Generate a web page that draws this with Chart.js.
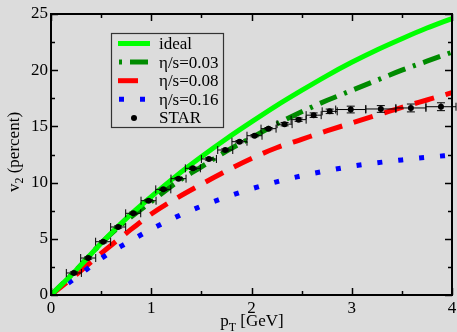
<!DOCTYPE html>
<html lang="en">
<head>
  <meta charset="UTF-8">
  <title>v2 vs pT</title>
  <script src="https://cdn.jsdelivr.net/npm/chart.js"></script>
  <style>
    html, body {
      margin: 0;
      padding: 0;
      background-color: #dcdcdc;
    }
    canvas {
      display: block;
    }
    .fontwarm {
      position: absolute;
      left: -1000px;
      top: 0;
      font-family: "Liberation Serif", serif;
      font-size: 17px;
    }
  </style>
</head>
<body>
  <div class="fontwarm">p η/s=0.03 STAR 0123456789</div>
  <canvas id="myChart" width="457" height="332"></canvas>

  <script>
    // hydro curves at these pT values
    const ptGrid   = [0, 0.25, 0.5, 0.75, 1.0, 1.25, 1.5, 1.75, 2.0, 2.25, 2.5, 2.75, 3.0, 3.25, 3.5, 3.75, 4.0];
    const idealV2  = [0, 2.2, 4.6, 6.8, 8.75, 10.6, 12.3, 13.9, 15.4, 16.85, 18.2, 19.5, 20.7, 21.8, 22.8, 23.75, 24.6];
    const eta003V2 = [0, 2.2, 4.6, 6.6, 8.3, 10.0, 11.4, 12.8, 14.0, 15.2, 16.3, 17.3, 18.2, 19.1, 20.0, 20.8, 21.6];
    const eta008V2 = [0, 1.8, 3.7, 5.5, 7.2, 8.6, 9.85, 11.05, 12.15, 13.1, 13.85, 14.6, 15.3, 16.0, 16.7, 17.35, 18.0];
    const eta016V2 = [0, 1.55, 3.25, 4.6, 5.85, 6.95, 7.9, 8.72, 9.45, 10.07, 10.6, 11.05, 11.45, 11.76, 12.02, 12.25, 12.45];

    // STAR data points
    const starPt    = [0.228, 0.371, 0.52, 0.67, 0.82, 0.973, 1.12, 1.272, 1.415, 1.575, 1.738, 1.88, 2.03, 2.17, 2.33, 2.47, 2.62, 2.78, 2.99, 3.29, 3.59, 3.89];
    const starV2    = [1.96, 3.29, 4.74, 6.05, 7.27, 8.39, 9.4, 10.35, 11.27, 12.1, 12.9, 13.64, 14.17, 14.8, 15.2, 15.6, 16.0, 16.34, 16.5, 16.55, 16.64, 16.75];
    const starPtErr = [0.075, 0.075, 0.075, 0.075, 0.075, 0.075, 0.075, 0.075, 0.075, 0.075, 0.075, 0.075, 0.075, 0.075, 0.075, 0.075, 0.075, 0.075, 0.15, 0.15, 0.15, 0.15];
    const starV2Err = [0.1, 0.1, 0.1, 0.1, 0.1, 0.1, 0.1, 0.1, 0.1, 0.1, 0.1, 0.1, 0.1, 0.1, 0.15, 0.15, 0.2, 0.2, 0.3, 0.3, 0.35, 0.35];

    const xTicks = [0, 1, 2, 3, 4];
    const yTicks = [0, 5, 10, 15, 20, 25];
    const legendOrder = ['ideal', 'η/s=0.03', 'η/s=0.08', 'η/s=0.16', 'STAR'];

    const serif = '"Liberation Serif", "Times New Roman", serif';
    const toXY = (xs, ys) => xs.map((x, i) => ({ x: x, y: ys[i] }));

    function curve(label, ys, color, dash) {
      return {
        label: label,
        data: toXY(ptGrid, ys),
        showLine: true,
        borderColor: color,
        backgroundColor: color,
        borderWidth: 5,
        borderDash: dash,
        borderCapStyle: 'butt',
        pointRadius: 0,
        cubicInterpolationMode: 'monotone'
      };
    }

    // inward ticks + frame
    const framePlugin = {
      id: 'frame',
      afterDatasetsDraw(chart) {
        const { ctx, chartArea: a, scales: { x, y } } = chart;
        ctx.save();
        ctx.strokeStyle = '#000';
        ctx.lineWidth = 1.5;
        ctx.beginPath();
        for (let v = 0; v <= 4.001; v += 0.5) {
          const px = Math.round(x.getPixelForValue(v)) + 0.5;
          const len = Math.abs(v - Math.round(v)) < 0.01 ? 7 : 4;
          ctx.moveTo(px, a.bottom); ctx.lineTo(px, a.bottom - len);
          ctx.moveTo(px, a.top); ctx.lineTo(px, a.top + len);
        }
        for (let v = 0; v <= 25.001; v += 2.5) {
          const py = Math.round(y.getPixelForValue(v)) + 0.5;
          const len = Math.abs(v / 5 - Math.round(v / 5)) < 0.01 ? 7 : 4;
          ctx.moveTo(a.left, py); ctx.lineTo(a.left + len, py);
          ctx.moveTo(a.right, py); ctx.lineTo(a.right - len, py);
        }
        ctx.stroke();
        ctx.lineWidth = 2;
        ctx.strokeRect(a.left, a.top, a.right - a.left, a.bottom - a.top);
        ctx.restore();
      }
    };

    // STAR error bars
    const errorBarPlugin = {
      id: 'errorBars',
      afterDatasetsDraw(chart) {
        const { ctx, scales: { x, y } } = chart;
        const cap = 4;
        ctx.save();
        ctx.strokeStyle = '#000';
        ctx.lineWidth = 1;
        ctx.beginPath();
        starPt.forEach((p, i) => {
          const cx = x.getPixelForValue(p);
          const cy = y.getPixelForValue(starV2[i]);
          const x1 = x.getPixelForValue(p - starPtErr[i]);
          const x2 = x.getPixelForValue(p + starPtErr[i]);
          const y1 = y.getPixelForValue(starV2[i] - starV2Err[i]);
          const y2 = y.getPixelForValue(starV2[i] + starV2Err[i]);
          ctx.moveTo(x1, cy); ctx.lineTo(x2, cy);
          ctx.moveTo(x1, cy - cap); ctx.lineTo(x1, cy + cap);
          ctx.moveTo(x2, cy - cap); ctx.lineTo(x2, cy + cap);
          ctx.moveTo(cx, y1); ctx.lineTo(cx, y2);
          ctx.moveTo(cx - cap, y1); ctx.lineTo(cx + cap, y1);
          ctx.moveTo(cx - cap, y2); ctx.lineTo(cx + cap, y2);
        });
        ctx.stroke();
        ctx.restore();
      }
    };

    // axis titles with subscripts
    const axisTitlePlugin = {
      id: 'axisTitles',
      afterDraw(chart) {
        const { ctx } = chart;
        ctx.save();
        ctx.fillStyle = '#000';
        ctx.textBaseline = 'alphabetic';
        ctx.textAlign = 'left';

        const big = '17px ' + serif;
        const small = '12px ' + serif;
        // x title: p_T [GeV]
        ctx.font = big;
        const wp = ctx.measureText('p').width;
        const wr = ctx.measureText(' [GeV]').width;
        ctx.font = small;
        const wt = ctx.measureText('T').width;
        let sx = 252 - (wp + wt + wr) / 2;
        const by = 326;
        ctx.font = big; ctx.fillText('p', sx, by);
        ctx.font = small; ctx.fillText('T', sx + wp, by + 5);
        ctx.font = big; ctx.fillText(' [GeV]', sx + wp + wt, by);

        // y title: v_2 (percent)
        ctx.translate(18.5, 152);
        ctx.rotate(-Math.PI / 2);
        ctx.font = big;
        const wv = ctx.measureText('v').width;
        const wrest = ctx.measureText(' (percent)').width;
        ctx.font = small;
        const w2 = ctx.measureText('2').width;
        sx = -(wv + w2 + wrest) / 2;
        ctx.font = big; ctx.fillText('v', sx, 0);
        ctx.font = small; ctx.fillText('2', sx + wv, 4);
        ctx.font = big; ctx.fillText(' (percent)', sx + wv + w2, 0);
        ctx.restore();
      }
    };

    // boxed legend inside the plot
    const legendPlugin = {
      id: 'boxLegend',
      afterDraw(chart) {
        const { ctx } = chart;
        const box = { left: 111, top: 33, right: 223, bottom: 127 };
        ctx.save();
        ctx.fillStyle = '#dcdcdc';
        ctx.fillRect(box.left, box.top, box.right - box.left, box.bottom - box.top);
        ctx.strokeStyle = '#333';
        ctx.lineWidth = 1.2;
        ctx.strokeRect(box.left + 0.5, box.top + 0.5, box.right - box.left, box.bottom - box.top);

        const offsets = { 'η/s=0.03': 25, 'η/s=0.08': 0, 'η/s=0.16': 20 };
        legendOrder.forEach((label, i) => {
          const ds = chart.data.datasets.find(d => d.label === label);
          const yy = 43.5 + i * 18.6;
          if (label === 'STAR') {
            ctx.fillStyle = '#000';
            ctx.beginPath();
            ctx.arc(134, yy, 3, 0, Math.PI * 2);
            ctx.fill();
          } else {
            ctx.strokeStyle = ds.borderColor;
            ctx.lineWidth = ds.borderWidth;
            ctx.lineCap = 'butt';
            ctx.setLineDash(ds.borderDash || []);
            ctx.lineDashOffset = offsets[label] || 0;
            ctx.beginPath();
            ctx.moveTo(118, yy);
            ctx.lineTo(label === 'η/s=0.08' ? 139 : 150, yy);
            ctx.stroke();
            ctx.setLineDash([]);
          }
          ctx.fillStyle = '#000';
          ctx.font = '17px ' + serif;
          ctx.textBaseline = 'middle';
          ctx.textAlign = 'left';
          ctx.fillText(label, 159, yy + 1);
        });
        ctx.restore();
      }
    };

    const tickFont = { family: serif, size: 17 };

    function drawChart() {
      const ctx = document.getElementById('myChart').getContext('2d');
      return new Chart(ctx, {
        type: 'scatter',
        data: {
          datasets: [
            {
              label: 'STAR',
              data: toXY(starPt, starV2),
              showLine: false,
              pointRadius: 3,
              pointBorderWidth: 0,
              pointBackgroundColor: '#000',
              backgroundColor: '#000'
            },
            curve('ideal', idealV2, '#00ff00', []),
            curve('η/s=0.16', eta016V2, '#0000ff', [5, 16]),
            curve('η/s=0.08', eta008V2, '#ff0000', [20, 12]),
            curve('η/s=0.03', eta003V2, '#008b00', [18, 8, 3, 8])
          ]
        },
        options: {
          responsive: false,
          animation: false,
          events: [],
          layout: {
            padding: { top: 14, right: 5, left: 0, bottom: 0 }
          },
          plugins: {
            legend: { display: false },
            tooltip: { enabled: false }
          },
          scales: {
            x: {
              type: 'linear',
              min: 0,
              max: 4,
              afterBuildTicks: s => { s.ticks = xTicks.map(v => ({ value: v })); },
              ticks: { font: tickFont, color: '#000', padding: 3, maxRotation: 0, autoSkip: false },
              grid: { display: false, drawTicks: false },
              border: { display: false },
              afterFit: s => { s.height = 37; s.paddingLeft = 0; s.paddingRight = 0; }
            },
            y: {
              type: 'linear',
              min: 0,
              max: 25,
              afterBuildTicks: s => { s.ticks = yTicks.map(v => ({ value: v })); },
              ticks: { font: tickFont, color: '#000', padding: 3, autoSkip: false },
              grid: { display: false, drawTicks: false },
              border: { display: false },
              afterFit: s => { s.width = 51; s.paddingTop = 0; s.paddingBottom = 0; }
            }
          }
        },
        plugins: [framePlugin, errorBarPlugin, axisTitlePlugin, legendPlugin]
      });
    }

    let myChart = null;
    if (document.fonts && document.fonts.load) {
      document.fonts.load('17px "Liberation Serif"').then(() => { myChart = drawChart(); }, () => { myChart = drawChart(); });
    } else {
      myChart = drawChart();
    }
  </script>
</body>
</html>
